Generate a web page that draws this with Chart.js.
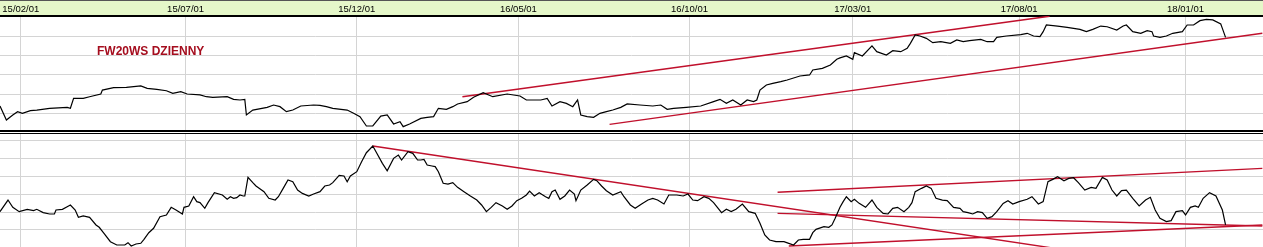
<!DOCTYPE html>
<html>
<head>
<meta charset="utf-8">
<script src="https://cdn.jsdelivr.net/npm/chart.js@4.4.1/dist/chart.umd.min.js"></script>
<style>
    body { margin: 0; background: #fff; }
    #wrap { position: relative; width: 1263px; height: 247px; overflow: hidden; }
    #topChart { position: absolute; left: 0; top: 0; }
    #bottomChart { position: absolute; left: 0; top: 134px; }
</style>
</head>
<body>
<div id="wrap">
    <canvas id="topChart" width="1263" height="134"></canvas>
    <canvas id="bottomChart" width="1263" height="113"></canvas>
</div>
<script>
// Osie czasu (sesje od poczatku wykresu) i opisy dat
const tickDays = [13, 116, 223, 324, 431, 533, 637, 741];
const tickLabels = ['15/02/01', '15/07/01', '15/12/01', '16/05/01', '16/10/01', '17/03/01', '17/08/01', '18/01/01'];
const dayMax = 789.4;
const titleText = 'FW20WS DZIENNY';

// Notowania FW20 (gorny panel)
const priceDays = [0,4,8,11,14,19,23,31,42,44,46,52,56,63,64,71,79,88,92,98,
    104,108,113,117,125,129,133,142,146,150,153,154,158,167,171,175,179,183,188,196,
    200,204,208,217,221,225,229,233,238,242,246,250,252,256,263,267,271,274,279,283,
    286,292,296,302,308,317,325,329,338,342,345,350,354,358,361,363,367,371,375,379,
    383,388,392,400,408,413,417,421,429,438,446,450,454,458,463,467,471,473,475,479,
    483,488,492,500,506,508,514,519,523,525,529,533,534,539,545,548,554,558,563,567,
    569,572,575,579,583,588,594,598,602,606,613,617,621,623,629,638,642,646,650,652,
    654,661,667,675,679,683,688,692,698,702,704,708,713,717,720,721,725,729,733,739,
    742,746,750,754,758,763,764,766];
const priceValues = [1876,1731,1783,1817,1800,1828,1834,1852,1862,1852,1955,1955,1972,2000,2041,2065,2069,2083,2059,2048,
    2034,2007,2024,2000,1990,1972,1966,1972,1945,1938,1945,1783,1834,1862,1886,1869,1817,1834,1876,1886,
    1883,1869,1852,1834,1800,1766,1669,1669,1772,1783,1690,1714,1662,1690,1748,1759,1766,1852,1841,1869,
    1897,1921,1966,2014,1972,2000,1979,1938,1938,1955,1876,1921,1903,1869,1938,1783,1766,1759,1800,1817,
    1834,1862,1897,1886,1876,1886,1841,1852,1862,1876,1921,1945,1903,1938,1886,1938,1921,1938,2041,2093,
    2110,2128,2145,2186,2197,2248,2265,2300,2359,2374,2393,2359,2428,2393,2497,2438,2403,2448,2438,2472,
    2524,2610,2600,2576,2531,2541,2524,2559,2541,2552,2565,2541,2541,2586,2600,2614,2628,2600,2593,2645,
    2714,2703,2690,2669,2645,2669,2703,2696,2662,2703,2714,2645,2628,2655,2645,2600,2586,2600,2628,2645,
    2714,2714,2759,2772,2766,2724,2679,2586];
const priceGrid = [1800, 2000, 2200, 2400, 2600];

// Oscylator (dolny panel)
const oscDays = [0,5,8,12,17,21,23,27,31,34,35,39,42,44,47,49,52,56,60,62,
    65,69,73,78,80,82,85,88,90,93,96,100,104,107,110,114,115,118,121,123,
    125,128,130,134,139,142,144,146,148,150,152,153,155,158,160,165,168,172,174,177,
    180,183,186,189,193,196,200,203,206,208,212,215,217,219,223,226,229,233,235,239,
    242,246,249,251,255,258,261,
    263,265,267,270,272,274,277,280,283,286,290,294,298,301,304,307,310,314,317,320,
    323,326,329,331,334,337,341,343,345,347,350,353,356,359,360,363,367,371,373,376,
    379,383,388,390,394,397,401,405,408,411,415,418,423,427,430,433,436,440,443,446,
    451,454,457,460,464,468,472,475,478,481,485,490,493,496,499,502,506,508,510,515,
    518,520,522,
    525,527,529,532,534,537,541,545,548,552,555,558,561,565,568,570,572,576,579,582,
    585,589,592,596,600,602,605,608,611,614,617,620,623,627,630,633,637,642,645,649,
    652,655,658,661,665,668,671,674,678,682,685,689,692,695,698,701,704,708,712,716,
    719,722,725,729,732,735,739,741,744,747,749,752,756,760,764,766];
const oscValues = [20.4,33.3,25.2,20.4,23.0,21.5,23.0,19.3,17.8,17.8,22.2,23.0,25.9,27.8,22.2,14.1,15.6,14.1,5.6,3.0,
    -3.7,-13.0,-16.7,-16.7,-14.1,-17.8,-15.6,-14.8,-10.4,-3.0,1.9,14.8,16.7,25.2,22.2,17.8,25.2,26.7,37.0,31.5,
    30.4,24.1,30.4,41.5,38.9,34.1,37.0,35.2,35.9,38.9,37.8,37.8,58.5,52.6,48.9,42.6,35.2,33.3,37.0,46.3,
    55.6,53.7,44.4,40.7,37.8,40.0,42.6,48.9,50.0,52.6,60.7,60.0,53.7,60.0,64.8,75.9,85.9,93.3,87.0,74.1,
    65.9,79.6,83.3,77.8,87.0,85.2,77.8,
    77.8,78.5,72.2,71.1,70.4,64.8,51.9,51.1,52.6,47.4,42.6,37.8,33.3,27.8,20.4,25.2,30.4,26.7,23.0,26.7,
    32.6,35.2,38.9,43.3,37.8,41.5,37.0,35.2,42.6,44.4,34.1,37.8,44.4,40.0,32.6,44.4,50.0,56.3,54.8,48.9,
    43.7,38.9,42.6,37.0,27.8,24.1,28.9,33.3,35.2,33.3,28.9,38.9,38.9,37.8,40.0,33.3,32.6,37.0,35.2,30.4,
    19.3,23.0,20.4,23.0,28.9,20.4,18.5,7.4,-5.6,-11.1,-13.0,-13.0,-14.8,-16.7,-11.1,-10.4,-10.4,-3.0,0.7,3.7,
    3.0,5.6,13.0,
    25.2,31.5,37.0,31.5,34.1,29.6,25.2,33.3,25.2,18.5,17.8,24.1,25.2,20.4,25.2,30.4,42.6,46.3,48.9,46.3,
    35.2,33.3,32.6,25.2,24.1,20.4,19.3,17.8,20.4,19.3,13.0,14.8,20.4,29.6,32.6,28.9,31.5,34.1,37.0,28.9,
    31.5,53.7,56.3,59.3,54.8,57.4,58.1,52.6,44.4,47.4,46.3,58.5,55.6,44.4,37.8,43.7,44.4,35.2,26.7,33.3,
    36.3,22.2,13.0,9.3,10.4,20.4,21.5,16.7,25.2,26.7,25.2,35.2,41.5,37.8,22.2,5.6];
const oscGrid = [0, 20, 40, 60, 80, 100];

// Linie trendu: [dzien poczatku, dzien konca], [wartosc poczatku, wartosc konca]
const priceTrendDays = [[289, 656], [381, 789]];
const priceTrendValues = [[1972, 2805], [1686, 2628]];
const oscTrendDays = [[233, 666], [486, 789], [486, 789], [493, 789]];
const oscTrendValues = [[93.3, -22.2], [41.9, 68.5], [18.5, 4.4], [-17.8, 5.6]];

const GRID = '#d4d4d4';
const RED = '#c0102c';
const FONT = '"Liberation Sans", Arial, sans-serif';

function toPoints(days, values) {
    return days.map((d, i) => ({ x: d, y: values[i] }));
}

function trendSets(days, values) {
    return days.map((d, i) => ({
        data: toPoints(d, values[i]),
        borderColor: RED,
        borderWidth: 1.4,
        pointRadius: 0,
        order: 1
    }));
}

function xAxis(withLabels) {
    return {
        type: 'linear',
        position: 'top',
        min: 0,
        max: dayMax,
        afterBuildTicks: s => { s.ticks = tickDays.map(v => ({ value: v })); },
        afterFit: s => { s.height = withLabels ? 16 : 0; },
        ticks: {
            display: withLabels,
            autoSkip: false,
            maxRotation: 0,
            padding: 1,
            color: '#000',
            font: { family: FONT, size: 9.5 },
            callback: v => tickLabels[tickDays.indexOf(v)]
        },
        grid: { color: GRID, drawTicks: false },
        border: { display: withLabels, color: '#000', width: 2 }
    };
}

function yAxis(min, max, grid) {
    return {
        type: 'linear',
        min: min,
        max: max,
        afterBuildTicks: s => { s.ticks = grid.map(v => ({ value: v })); },
        afterFit: s => { s.width = 0; },
        ticks: { display: false },
        grid: { color: GRID, drawTicks: false },
        border: { display: false }
    };
}

// Naglowek z datami, podwojna linia i tytul
const topDecor = {
    id: 'topDecor',
    beforeDraw(chart) {
        const ctx = chart.ctx;
        const x = chart.scales.x;
        ctx.save();
        ctx.fillStyle = '#e5f7c9';
        ctx.fillRect(0, 0, chart.width, x.bottom - 1);
        ctx.fillStyle = '#555';
        ctx.fillRect(0, 0, chart.width, 1);
        ctx.restore();
    },
    afterDraw(chart) {
        const ctx = chart.ctx;
        const a = chart.chartArea;
        ctx.save();
        ctx.fillStyle = '#000';
        ctx.fillRect(0, a.bottom, chart.width, 2);
        ctx.fillRect(0, a.bottom + 3, chart.width, 1);
        ctx.fillStyle = '#a50d1e';
        ctx.font = 'bold 12px ' + FONT;
        ctx.textBaseline = 'alphabetic';
        ctx.fillText(titleText, 97, 55);
        ctx.restore();
    }
};

document.addEventListener('DOMContentLoaded', function() {
    const common = {
        responsive: false,
        animation: false,
        devicePixelRatio: 1,
        layout: { padding: 0 },
        plugins: { legend: { display: false }, tooltip: { enabled: false } },
        elements: { line: { tension: 0 } }
    };

    new Chart(document.getElementById('topChart'), {
        type: 'line',
        data: {
            datasets: [{
                data: toPoints(priceDays, priceValues),
                borderColor: '#000',
                borderWidth: 1.2,
                pointRadius: 0,
                order: 0
            }].concat(trendSets(priceTrendDays, priceTrendValues))
        },
        options: Object.assign({}, common, {
            layout: { padding: { bottom: 4 } },
            scales: { x: xAxis(true), y: yAxis(1627.6, 2806.9, priceGrid) }
        }),
        plugins: [topDecor]
    });

    new Chart(document.getElementById('bottomChart'), {
        type: 'line',
        data: {
            datasets: [{
                data: toPoints(oscDays, oscValues),
                borderColor: '#000',
                borderWidth: 1.2,
                pointRadius: 0,
                order: 0
            }].concat(trendSets(oscTrendDays, oscTrendValues))
        },
        options: Object.assign({}, common, {
            scales: { x: xAxis(false), y: yAxis(-18.9, 106.7, oscGrid) }
        })
    });
});
</script>
</body>
</html>
